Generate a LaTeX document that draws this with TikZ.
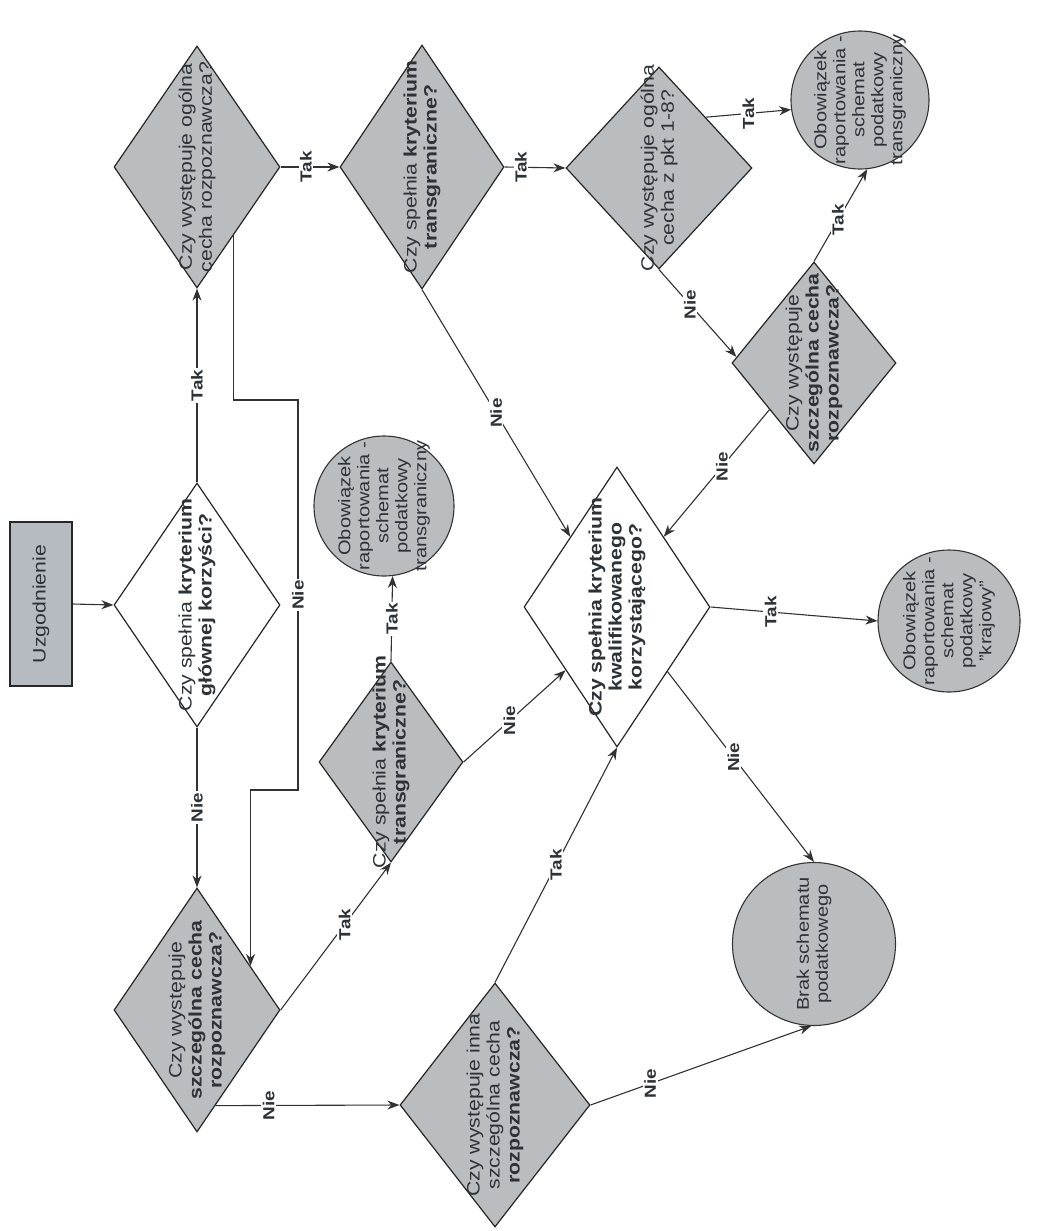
\documentclass[tikz,border=0pt]{standalone}
\usepackage{fontspec}
\setmainfont{Liberation Sans}[FakeStretch=1.18]
\usetikzlibrary{shapes.geometric,arrows.meta,calc}
\definecolor{shapegray}{RGB}{186,189,192}
\definecolor{boxgray}{RGB}{182,187,194}
\definecolor{textgray}{RGB}{45,50,55}
\definecolor{linegray}{RGB}{50,50,50}
\tikzset{
  dia/.style={diamond, draw=black!85, line width=1.2pt, inner sep=0pt},
  gdia/.style={dia, fill=shapegray},
  wdia/.style={dia, fill=white},
  circ/.style={circle, draw=black!80, line width=1.1pt, fill=shapegray, inner sep=0pt},
  txt/.style={rotate=90, align=center, font=\fontsize{18}{20}\selectfont, text=textgray},
  ctxt/.style={rotate=90, align=center, font=\fontsize{17}{19}\selectfont, text=textgray},
  lab/.style={rotate=90, font=\bfseries\fontsize{16}{16}\selectfont, fill=white, inner sep=1.5pt, text=textgray},
  conn/.style={draw=linegray, line width=1.1pt},
  arr/.style={conn, -{Stealth[length=12pt,width=9pt]}},
}
\begin{document}
\begin{tikzpicture}[x=1pt,y=-1pt]
\useasboundingbox[fill=white] (0,0) rectangle (1057,1231);

% start box
\node[draw=black!85, line width=1.2pt, fill=boxgray, minimum width=62pt, minimum height=164pt, inner sep=0pt] (u) at (41,604) {};
\node[txt] (tu) at (u) {Uzgodnienie};

% diamonds
\node[wdia, minimum width=166pt, minimum height=244pt] (d2) at (197,605) {};
\node[txt] (t2) at (d2) {Czy spełnia \textbf{kryterium}\\\textbf{głównej korzyści?}};

\node[gdia, minimum width=166pt, minimum height=242pt] (d3) at (197,167) {};
\node[txt] (t3) at (d3) {Czy występuje ogólna\\cecha rozpoznawcza?};

\node[gdia, minimum width=164pt, minimum height=244pt] (d4) at (422,167) {};
\node[txt] (t4) at (d4) {Czy spełnia \textbf{kryterium}\\\textbf{transgraniczne?}};

\node[gdia, minimum width=186pt, minimum height=202pt] (d5) at (659,168) {};
\node[txt] (t5) at (d5) {Czy występuje ogólna\\cecha z pkt 1-8?};

\node[gdia, minimum width=164pt, minimum height=202pt] (d7) at (814,363) {};
\node[txt] (t7) at (d7) {Czy występuje\\\textbf{szczególna cecha}\\\textbf{rozpoznawcza?}};

\node[gdia, minimum width=144pt, minimum height=200pt] (d9) at (391,762) {};
\node[txt] (t9) at (d9) {Czy spełnia \textbf{kryterium}\\\textbf{transgraniczne?}};

\node[wdia, minimum width=186pt, minimum height=280pt] (d10) at (617,607) {};
\node[txt] (t10) at (d10) {\textbf{Czy spełnia kryterium}\\\textbf{kwalifikowanego}\\\textbf{korzystającego?}};

\node[gdia, minimum width=166pt, minimum height=244pt] (d13) at (197,1010) {};
\node[txt] (t13) at (d13) {Czy występuje\\\textbf{szczególna cecha}\\\textbf{rozpoznawcza?}};

\node[gdia, minimum width=190pt, minimum height=244pt] (d14) at (495,1105) {};
\node[txt] (t14) at (d14) {Czy występuje inna\\szczególna cecha\\\textbf{rozpoznawcza?}};

% circles
\node[circ, minimum size=138pt] (c6) at (860,100) {};
\node[ctxt] (t6) at (c6) {Obowiązek\\raportowania -\\schemat\\podatkowy\\transgraniczny};

\node[circ, minimum size=140pt] (c8) at (384,506) {};
\node[ctxt] (t8) at (c8) {Obowiązek\\raportowania -\\schemat\\podatkowy\\transgraniczny};

\node[circ, minimum size=142pt] (c11) at (949,621) {};
\node[ctxt] (t11) at (c11) {Obowiązek\\raportowania -\\schemat\\podatkowy\\"krajowy"};

\node[circ, minimum size=163pt] (c12) at (814,944) {};
\node[ctxt] (t12) at (c12) {Brak schematu\\podatkowego};

% connectors
\draw[arr] (u.east) -- (d2.west);
\draw[arr] (d2.north) -- node[lab]{Tak} (d3.south);
\draw[arr] (d2.south) -- node[lab]{Nie} (d13.north);
\draw[arr] (d3.east) -- node[lab, pos=0.43]{Tak} (d4.west);
\draw[arr] ($(d3.east)!0.56!(d3.south)$) |- (298,400) -- node[lab]{Nie} (298,790) -| ($(d13.north)!0.64!(d13.east)$);
\draw[arr] (d4.east) -- node[lab, pos=0.27]{Tak} (d5.west);
\draw[arr] (d4.south) -- node[lab]{Nie} ($(d10.west)!0.5!(d10.north)$);
\draw[arr] ($(d5.north)!0.5!(d5.east)$) -- node[lab]{Tak} (c6.188);
\draw[arr] (d5.south) -- node[lab, pos=0.4]{Nie} ($(d7.west)!0.06!(d7.north)$);
\draw[arr] (d7.north) -- node[lab, pos=0.45]{Tak} (c6.-84);
\draw[arr] ($(d7.west)!0.46!(d7.south)$) -- node[lab, pos=0.45]{Nie} ($(d10.north)!0.5!(d10.east)$);
\draw[arr] (d9.north) -- node[lab]{Tak} (c8.-83);
\draw[arr] (d9.east) -- node[lab, pos=0.45]{Nie} ($(d10.west)!0.45!(d10.south)$);
\draw[arr] (d13.east) -- node[lab, pos=0.58]{Tak} (d9.south);
\draw[arr] ($(d13.east)!0.78!(d13.south)$) -- node[lab, pos=0.29]{Nie} (d14.west);
\draw[arr] (d14.north) -- node[lab]{Tak} (d10.south);
\draw[arr] (d14.east) -- node[lab, pos=0.27]{Nie} (c12.-92);
\draw[arr] (d10.east) -- node[lab, pos=0.36]{Tak} (c11.west);
\draw[arr] ($(d10.east)!0.46!(d10.south)$) -- node[lab, pos=0.45]{Nie} (c12.north);
\end{tikzpicture}
\end{document}
